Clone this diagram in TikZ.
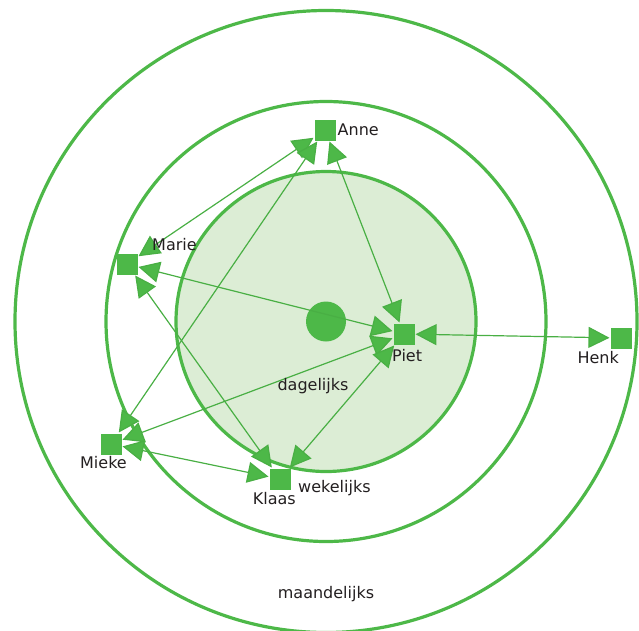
\documentclass[tikz,border=0pt]{standalone}
\usepackage{fontspec}
\setmainfont{DejaVu Sans}
\usetikzlibrary{arrows.meta}
\definecolor{ringgreen}{HTML}{4DB848}
\definecolor{daygreen}{HTML}{DCEDD5}
\definecolor{labelgray}{HTML}{231F20}
\tikzset{
  person/.style={fill=ringgreen, minimum size=21pt, inner sep=0pt, outer sep=1pt},
  ring/.style={draw=ringgreen, line width=3.2pt},
  tie/.style={draw=ringgreen!95!black, line width=1.2pt,
    {Triangle[length=21pt,width=21pt,fill=ringgreen]}-{Triangle[length=21pt,width=21pt,fill=ringgreen]}},
  lbl/.style={text=labelgray, inner sep=1pt, font=\fontsize{16}{19}\selectfont}
}
\begin{document}
\begin{tikzpicture}[x=1pt,y=-1pt]
        \useasboundingbox (0,0) rectangle (639,630);
        \coordinate (ctr) at (326,321.5);
        \draw[ring] (ctr) circle (311);
        \draw[ring] (ctr) circle (220);
        \draw[ring, fill=daygreen] (ctr) circle (150);
        \fill[ringgreen] (ctr) circle (20);
        \node[person] (anne) at (325,130) {};
        \node[person] (marie) at (127,264) {};
        \node[person] (piet) at (404,334) {};
        \node[person] (henk) at (621,338) {};
        \node[person] (mieke) at (111,444) {};
        \node[person] (klaas) at (280,479) {};
        \draw[tie] (marie) -- (anne);
        \draw[tie] (mieke) -- (anne);
        \draw[tie] (piet) -- (anne);
        \draw[tie] (marie) -- (piet);
        \draw[tie] (marie) -- (klaas);
        \draw[tie] (mieke) -- (piet);
        \draw[tie] (mieke) -- (klaas);
        \draw[tie] (klaas) -- (piet);
        \draw[tie] (piet) -- (henk);
        \node[lbl, anchor=west] (anneTxt) at (anne.east) {Anne};
        \node[lbl, anchor=base west] (marieTxt) at (151,250.5) {Marie};
        \node[lbl, anchor=base west] (pietTxt) at (391,361.5) {Piet};
        \node[lbl, anchor=base east] (henkTxt) at (620,363.5) {Henk};
        \node[lbl, anchor=base east] (miekeTxt) at (128,468.5) {Mieke};
        \node[lbl, anchor=base east] (klaasTxt) at (297,504) {Klaas};
        \node[lbl, anchor=base west] (weekTxt) at (297,492) {wekelijks};
        \node[lbl, anchor=base] (dayTxt) at (313,390) {dagelijks};
        \node[lbl, anchor=base] (monthTxt) at (326,598) {maandelijks};
    \end{tikzpicture}
\end{document}
